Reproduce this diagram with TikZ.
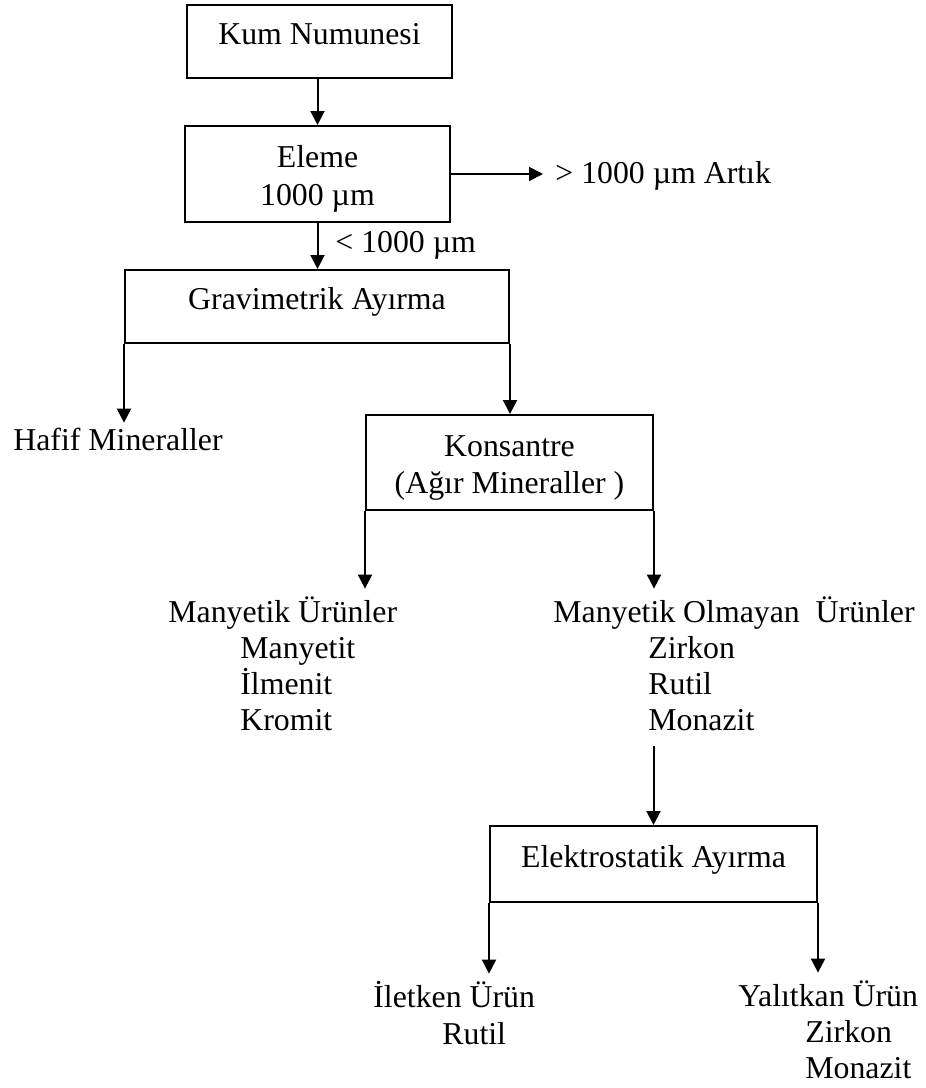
\documentclass[tikz,border=0pt]{standalone}
\usepackage{fontspec}
\setmainfont{Liberation Serif}
\usetikzlibrary{arrows.meta}

\begin{document}
\begin{tikzpicture}[x=0.5pt, y=-0.5pt,
		font=\fontsize{15.9}{18.7}\selectfont,
		kutu/.style={draw, line width=1pt, inner sep=0pt},
		tek/.style={kutu, text height=0.8em, text depth=0.5em},
		cift/.style={kutu, align=center},
		yazi/.style={anchor=base west, inner sep=0pt, text height=0.75em, text depth=0.2em},
		ok/.style={line width=1pt, -{Triangle[width=7pt,length=7pt]}}]
			%%%%% START %%%%%
			
			\useasboundingbox (0, 0) rectangle (926, 1088);
			
			\node[tek, minimum width=132.5pt, minimum height=36.5pt] (kum) at (319.5, 41.5) {Kum Numunesi};
			\node[cift, minimum width=132.5pt, minimum height=48pt] (eleme) at (317.5, 174) {\rule{0pt}{1em}Eleme\\1000 µm};
			\node[tek, minimum width=192pt, minimum height=36.5pt] (gravi) at (317, 306.5) {Gravimetrik Ayırma};
			\node[cift, minimum width=143.5pt, minimum height=47.5pt] (kons) at (509.5, 462.5) {\rule{0pt}{1em}Konsantre\\(Ağır Mineraller )};
			\node[tek, minimum width=163.5pt, minimum height=38pt] (elek) at (653.5, 864) {Elektrostatik Ayırma};
			
			\node[yazi] (artik) at (555, 183) {> 1000 µm Artık};
			\node[yazi] (kucuk) at (335, 252) {< 1000 µm};
			\node[yazi] (hafif) at (13, 450) {Hafif Mineraller};
			
			\node[yazi] (mag) at (168, 622) {Manyetik Ürünler};
			\foreach \t [count=\i] in {Manyetit, İlmenit, Kromit}
				\node[yazi] (mag\i) at (240, {622+36*\i}) {\t};
			
			\node[yazi] (nonmag) at (553, 622) {Manyetik Olmayan\ \ Ürünler};
			\foreach \t [count=\i] in {Zirkon, Rutil, Monazit}
				\node[yazi] (nonmag\i) at (648, {622+36*\i}) {\t};
			
			\node[yazi] (iletken) at (373, 1007) {İletken Ürün};
			\node[yazi] (iletken1) at (442, 1044) {Rutil};
			\node[yazi] (yalitkan) at (738, 1006) {Yalıtkan Ürün};
			\foreach \t [count=\i] in {Zirkon, Monazit}
				\node[yazi] (yalitkan\i) at (805, {1006+36*\i}) {\t};
			
			\draw[ok] (eleme.north |- kum.south) -- (eleme.north);
			\draw[ok, shorten >=6pt] (eleme.east) -- (eleme.east -| artik.west);
			\draw[ok] (eleme.south) -- (eleme.south |- gravi.north);
			
			\draw[ok, shorten >=6pt] (gravi.south west) -- (gravi.south west |- hafif.north);
			\draw[ok] (gravi.south east) -- (gravi.south east |- kons.north);
			
			\draw[ok, shorten >=9pt] (kons.south west) -- (kons.south west |- mag.north);
			\draw[ok, shorten >=9pt] (kons.south east) -- (kons.south east |- nonmag.north);
			
			\draw[ok, shorten <=6pt] (elek.north |- nonmag3.south) -- (elek.north);
			\draw[ok, shorten >=9pt] (elek.south west) -- (elek.south west |- iletken.north);
			\draw[ok, shorten >=9pt] (elek.south east) -- (elek.south east |- yalitkan.north);
			
			%%%%% END %%%%%
\end{tikzpicture}
\end{document}
